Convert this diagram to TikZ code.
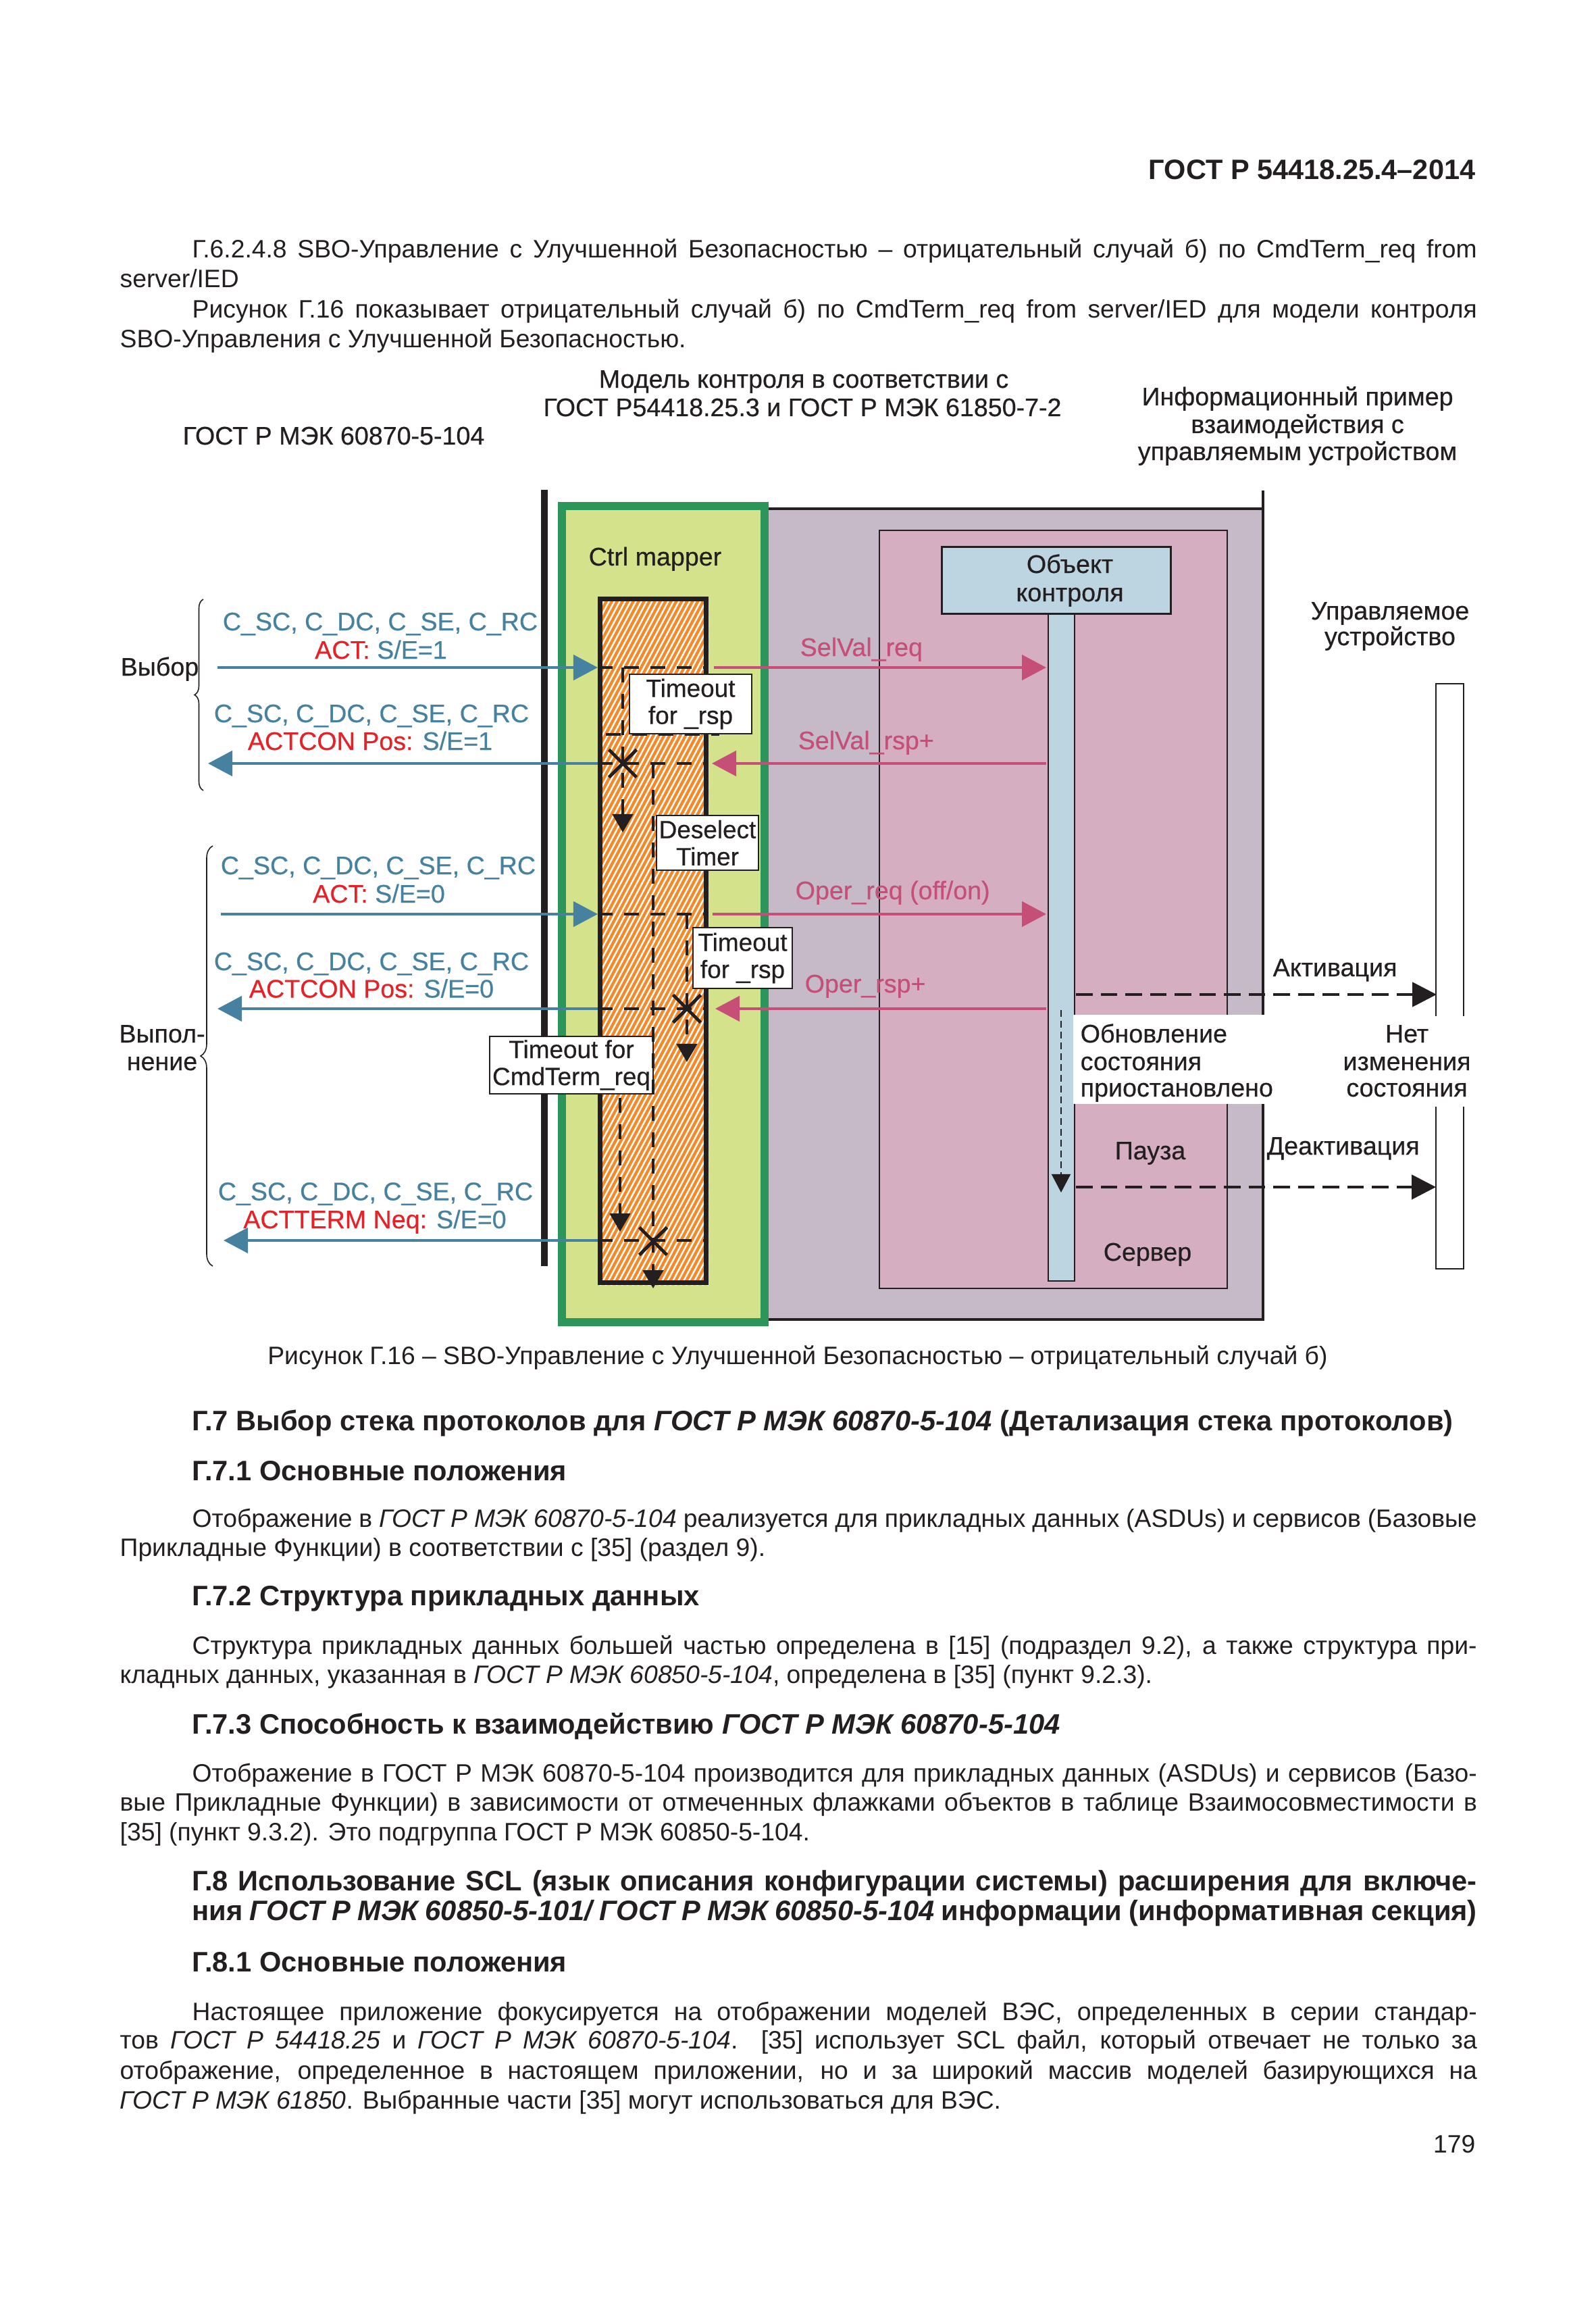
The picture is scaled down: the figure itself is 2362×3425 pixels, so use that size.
\documentclass[tikz,border=0pt]{standalone}
\usepackage{fontspec}
\setmainfont{Liberation Sans}
\newfontfamily\dfont{Liberation Sans}[FakeBold=0.5]
\usetikzlibrary{arrows.meta,patterns.meta,decorations.pathreplacing,shapes.misc}
\definecolor{cblue}{HTML}{4682A0}
\definecolor{cred}{HTML}{E52228}
\definecolor{cpink}{HTML}{C64F77}
\definecolor{cpurple}{HTML}{C6B9C8}
\definecolor{cpinkbg}{HTML}{D6AEC1}
\definecolor{clblue}{HTML}{BCD5E1}
\definecolor{clgreen}{HTML}{D4E28B}
\definecolor{cdgreen}{HTML}{2C9559}
\definecolor{corange}{HTML}{F4892A}
\definecolor{cblack}{HTML}{231F20}
\tikzset{
  body/.style={font=\fontsize{10.6}{12.6}\selectfont, anchor=base west, inner sep=0pt, text=cblack},
  bodyb/.style={font=\fontsize{11.85}{13}\selectfont\bfseries, anchor=base west, inner sep=0pt, text=cblack},
  hdr/.style={font=\fontsize{11.8}{13}\selectfont\bfseries, anchor=base east, inner sep=0pt, text=cblack},
  dl/.style={font=\dfont\fontsize{10.7}{12}\selectfont, inner sep=0pt, anchor=base},
  dlh/.style={font=\dfont\fontsize{10.7}{12}\selectfont, inner sep=0pt, anchor=base, text=cblack},
  bluearrow/.style={draw=cblue, line width=1.3pt, -{Triangle[length=0.36cm,width=0.37cm]}},
  pinkarrow/.style={draw=cpink, line width=1.3pt, -{Triangle[length=0.36cm,width=0.37cm]}},
  timerline/.style={draw=cblack, line width=1.4pt, dash pattern=on 0.22cm off 0.17cm},
  timertip/.style={-{Triangle[length=0.27cm,width=0.3cm]}},
  xmark/.style={cross out, draw=cblack, line width=1.4pt, minimum size=0.36cm, inner sep=0pt},
  timerbox/.style={draw=cblack, line width=0.45pt, fill=white, inner sep=0pt, align=center, font=\dfont\fontsize{10.5}{11.4}\selectfont, text=cblack},
  actarrow/.style={draw=cblack, line width=1.3pt, dash pattern=on 0.245cm off 0.12cm, -{Triangle[length=0.36cm,width=0.36cm]}},
  bracestyle/.style={draw=cblack, line width=0.45pt, decorate},
}
\begin{document}
\begin{tikzpicture}[x=0.01cm,y=-0.01cm]
\fill[white] (0,0) rectangle (2362,3425);
\useasboundingbox (0,0) rectangle (2362,3425);

% ---------- page header and first paragraphs
\node[hdr] (hdr) at (2185,266) {ГОСТ Р 54418.25.4–2014};
\node[body] (p1a) at (284,382) {\makebox[19.01cm][s]{Г.6.2.4.8 SBO-Управление с Улучшенной Безопасностью – отрицательный случай б) по CmdTerm\_req from}};
\node[body] (p1b) at (177,426) {server/IED};
\node[body] (p2a) at (284,471) {\makebox[19.01cm][s]{Рисунок Г.16 показывает отрицательный случай б) по CmdTerm\_req from server/IED для модели контроля}};
\node[body] (p2b) at (177,515) {SBO-Управления с Улучшенной Безопасностью.};

% ---------- diagram headings
\node[dlh] (h104) at (494,658) {ГОСТ Р МЭК 60870-5-104};
\node[dlh] (hm1) at (1190,574) {Модель контроля в соответствии с};
\node[dlh] (hm2) at (1188,616) {ГОСТ Р54418.25.3 и ГОСТ Р МЭК 61850-7-2};
\node[dlh] (hi1) at (1921,600) {Информационный пример};
\node[dlh] (hi2) at (1921,641) {взаимодействия с};
\node[dlh] (hi3) at (1921,681) {управляемым устройством};

% ---------- background regions
\fill[cpurple] (1132,753) rectangle (1870,1955);
\draw[cblack, line width=1.3pt] (1132,753) -- (1870,753);
\draw[cblack, line width=1.3pt] (1870,726) -- (1870,1955);
\draw[cblack, line width=1.3pt] (1132,1953) -- (1872,1953);
\draw[fill=cpinkbg, draw=cblack, line width=0.5pt] (1302,785) rectangle (1817,1907);
\draw[fill=clgreen, draw=cdgreen, line width=3.4pt] (832,749) rectangle (1132,1957);
\draw[cblack, line width=2.85pt] (806,725) -- (806,1874);

% orange hatched box
\fill[corange] (885,883) rectangle (1049,1902);
\fill[pattern={Lines[angle=62,distance=2pt,line width=0.7pt]}, pattern color=white] (885,883) rectangle (1049,1902);
\draw[cblack, line width=2pt] (888.5,886.5) rectangle (1045.5,1898.5);

\node[dlh, anchor=base west] (ctrl) at (871,837) {Ctrl mapper};

% object lifeline
\draw[fill=clblue, draw=cblack, line width=0.5pt] (1552,908) rectangle (1591,1896);
\node[draw=cblack, line width=0.85pt, fill=clblue, minimum width=3.38cm, minimum height=0.98cm, inner sep=0pt] (obj) at (1564,859) {};
\node[dlh] (obj1) at (1584,848) {Объект};
\node[dlh] (obj2) at (1584,890) {контроля};

% controlled device
\node[draw=cblack, line width=0.6pt, fill=white, minimum width=0.41cm, minimum height=8.66cm, inner sep=0pt] (dev) at (2146.5,1445) {};
\node[dlh] (dev1) at (2058,917) {Управляемое};
\node[dlh] (dev2) at (2058,955) {устройство};

% ---------- coordinates
\coordinate (L1) at (322,988);  \coordinate (M1) at (885,988);  \coordinate (N1) at (1049,988);  \coordinate (P1) at (1057,988);  \coordinate (O1) at (1549,988);
\coordinate (L2) at (308,1130); \coordinate (M2) at (885,1130); \coordinate (N2) at (1049,1130); \coordinate (P2) at (1054,1130); \coordinate (O2) at (1549,1130);
\coordinate (L3) at (327,1353); \coordinate (M3) at (885,1353); \coordinate (N3) at (1049,1353); \coordinate (P3) at (1055,1353); \coordinate (O3) at (1549,1353);
\coordinate (L4) at (322,1493); \coordinate (M4) at (885,1493); \coordinate (N4) at (1049,1493); \coordinate (P4) at (1059,1493); \coordinate (O4) at (1549,1493);
\coordinate (L5) at (331,1836); \coordinate (M5) at (885,1836); \coordinate (N5) at (1049,1836);

% dashed horizontals in mapper
\draw[timerline] (M1) -- (N1);
\draw[timerline] (M2) -- (N2);
\draw[timerline] (M3) -- (N3);
\draw[timerline] (M4) -- (N4);
\draw[timerline] (M5) -- (N5);

% timer boxes
\node[timerbox, minimum width=1.81cm, minimum height=0.88cm] (tb1) at (1022.5,1042) {Timeout\\for \_rsp};
\node[timerbox, minimum width=1.51cm, minimum height=0.81cm] (tb2) at (1047.5,1247.5) {Deselect\\Timer};
\node[timerbox, minimum width=1.47cm, minimum height=0.90cm] (tb3) at (1099.5,1418) {Timeout\\for \_rsp};
\node[timerbox, minimum width=2.42cm, minimum height=0.85cm] (tb4) at (846,1576.5) {Timeout for\\CmdTerm\_req};

% timer lines
\coordinate (T1a) at (922,988);  \coordinate (T1b) at (922,1232);
\coordinate (T1c) at (897,1087); \coordinate (T1d) at (1065,1087);
\coordinate (T2a) at (967,1130); \coordinate (T2b) at (967,1907);
\coordinate (T3a) at (1017,1353); \coordinate (T3b) at (1017,1572);
\coordinate (T4a) at (918,1625); \coordinate (T4b) at (918,1823);
\draw[timerline, timertip] (T1a) -- (T1b);
\draw[timerline] (T1c) -- (T1d);
\draw[timerline, timertip] (T3a) -- (T3b);
\draw[timerline, timertip] (T4a) -- (T4b);
\draw[timerline, timertip] (T2a) -- (T2b);
\node[xmark] (x1) at (922,1130) {};
\node[xmark] (x2) at (1017,1493) {};
\node[xmark] (x3) at (967,1837) {};

% messages
\draw[bluearrow] (L1) -- (M1);
\draw[bluearrow] (M2) -- (L2);
\draw[bluearrow] (L3) -- (M3);
\draw[bluearrow] (M4) -- (L4);
\draw[bluearrow] (M5) -- (L5);
\draw[pinkarrow] (P1) -- (O1);
\draw[pinkarrow] (O2) -- (P2);
\draw[pinkarrow] (P3) -- (O3);
\draw[pinkarrow] (O4) -- (P4);

% message labels (left)
\node[dl, text=cblue] (r1a) at (563,933) {C\_SC, C\_DC, C\_SE, C\_RC};
\node[dl] (r1b) at (564,975) {\textcolor{cred}{ACT:} \textcolor{cblue}{S/E=1}};
\node[dl, text=cblue] (r2a) at (550,1069) {C\_SC, C\_DC, C\_SE, C\_RC};
\node[dl] (r2b) at (548,1110) {\textcolor{cred}{ACTCON Pos:} \textcolor{cblue}{S/E=1}};
\node[dl, text=cblue] (r3a) at (560,1294) {C\_SC, C\_DC, C\_SE, C\_RC};
\node[dl] (r3b) at (561,1336) {\textcolor{cred}{ACT:} \textcolor{cblue}{S/E=0}};
\node[dl, text=cblue] (r4a) at (550,1436) {C\_SC, C\_DC, C\_SE, C\_RC};
\node[dl] (r4b) at (550,1476.5) {\textcolor{cred}{ACTCON Pos:} \textcolor{cblue}{S/E=0}};
\node[dl, text=cblue] (r5a) at (556,1776.5) {C\_SC, C\_DC, C\_SE, C\_RC};
\node[dl] (r5b) at (555,1818) {\textcolor{cred}{ACTTERM Neq:} \textcolor{cblue}{S/E=0}};

% message labels (pink)
\node[dl, text=cpink, anchor=base west] (s1) at (1184,971) {SelVal\_req};
\node[dl, text=cpink, anchor=base west] (s2) at (1181,1109) {SelVal\_rsp+};
\node[dl, text=cpink, anchor=base west] (s3) at (1177,1331) {Oper\_req (off/on)};
\node[dl, text=cpink, anchor=base west] (s4) at (1191,1469) {Oper\_rsp+};

% braces
\coordinate (B1a) at (301,1170); \coordinate (B1b) at (301,887);
\coordinate (B2a) at (315,1874); \coordinate (B2b) at (315,1252);
\draw[bracestyle, decoration={brace, amplitude=0.13cm}] (B1a) -- (B1b);
\draw[bracestyle, decoration={brace, amplitude=0.18cm}] (B2a) -- (B2b);
\node[dlh, anchor=base west] (sel) at (178,1000) {Выбор};
\node[dlh] (ex1) at (240,1543) {Выпол-};
\node[dlh] (ex2) at (240,1584) {нение};

% object activity
\coordinate (D1) at (1571,1495); \coordinate (D2) at (1571,1765);
\draw[draw=cblack, line width=0.45pt, dash pattern=on 0.1cm off 0.06cm, -{Triangle[length=0.27cm,width=0.28cm]}] (D1) -- (D2);
\coordinate (A1) at (1593,1472); \coordinate (A2) at (2127,1472);
\coordinate (A3) at (1593,1757); \coordinate (A4) at (2126,1757);
\draw[actarrow] (A1) -- (A2);
\draw[actarrow] (A3) -- (A4);
\node[dlh, anchor=base west] (act) at (1884,1445) {Активация};
\node[dlh, anchor=base west] (deact) at (1875,1709) {Деактивация};

\node[fill=white, inner sep=0pt, minimum width=2.86cm, minimum height=1.32cm] (updbg) at (1732,1568) {};
\node[dlh, anchor=base west] (upd1) at (1599,1543) {Обновление};
\node[dlh, anchor=base west] (upd2) at (1599,1584) {состояния};
\node[dlh, anchor=base west] (upd3) at (1599,1623) {приостановлено};
\node[fill=white, inner sep=0pt, minimum width=1.95cm, minimum height=1.33cm] (nobg) at (2082,1571) {};
\node[dlh] (no1) at (2083,1543) {Нет};
\node[dlh] (no2) at (2083,1584) {изменения};
\node[dlh] (no3) at (2083,1623) {состояния};

\node[dlh] (pause) at (1703,1716) {Пауза};
\node[dlh] (srv) at (1699,1866) {Сервер};

% ---------- caption and following text
\node[body, anchor=base] (cap) at (1181,2019) {Рисунок Г.16 – SBO-Управление с Улучшенной Безопасностью – отрицательный случай б)};

\node[bodyb] (g7) at (284,2117) {Г.7 Выбор стека протоколов для \textit{ГОСТ Р МЭК 60870-5-104} (Детализация стека протоколов)};
\node[bodyb] (g71) at (284,2191) {Г.7.1 Основные положения};
\node[body] (q1a) at (284,2260) {\makebox[19.01cm][s]{Отображение в \textit{ГОСТ Р МЭК 60870-5-104} реализуется для прикладных данных (ASDUs) и сервисов (Базовые}};
\node[body] (q1b) at (177,2303) {Прикладные Функции) в соответствии с [35] (раздел 9).};
\node[bodyb] (g72) at (284,2376) {Г.7.2 Структура прикладных данных};
\node[body] (q2a) at (284,2448) {\makebox[19.01cm][s]{Структура прикладных данных большей частью определена в [15] (подраздел 9.2), а также структура при-}};
\node[body] (q2b) at (177,2491) {кладных данных, указанная в \textit{ГОСТ Р МЭК 60850-5-104}, определена в [35] (пункт 9.2.3).};
\node[bodyb] (g73) at (284,2566) {Г.7.3 Способность к взаимодействию \textit{ГОСТ Р МЭК 60870-5-104}};
\node[body] (q3a) at (284,2637) {\makebox[19.01cm][s]{Отображение в ГОСТ Р МЭК 60870-5-104 производится для прикладных данных (ASDUs) и сервисов (Базо-}};
\node[body] (q3b) at (177,2680) {\makebox[20.08cm][s]{вые Прикладные Функции) в зависимости от отмеченных флажками объектов в таблице Взаимосовместимости в}};
\node[body] (q3c) at (177,2724) {[35] (пункт 9.3.2). Это подгруппа ГОСТ Р МЭК 60850-5-104.};
\node[bodyb] (g8a) at (284,2798) {\makebox[19.01cm][s]{Г.8 Использование SCL (язык описания конфигурации системы) расширения для включе-}};
\node[bodyb] (g8b) at (284,2842) {\makebox[19.01cm][s]{ния \textit{ГОСТ Р МЭК 60850-5-101/ ГОСТ Р МЭК 60850-5-104} информации (информативная секция)}};
\node[bodyb] (g81) at (284,2918) {Г.8.1 Основные положения};
\node[body] (q4a) at (284,2990) {\makebox[19.01cm][s]{Настоящее приложение фокусируется на отображении моделей ВЭС, определенных в серии стандар-}};
\node[body] (q4b) at (177,3032) {\makebox[20.08cm][s]{тов \textit{ГОСТ Р 54418.25} и \textit{ГОСТ Р МЭК 60870-5-104}. [35] использует SCL файл, который отвечает не только за}};
\node[body] (q4c) at (177,3077) {\makebox[20.08cm][s]{отображение, определенное в настоящем приложении, но и за широкий массив моделей базирующихся на}};
\node[body] (q4d) at (177,3121) {\textit{ГОСТ Р МЭК 61850}. Выбранные части [35] могут использоваться для ВЭС.};
\node[body, anchor=base east] (pg) at (2185,3186) {179};
\end{tikzpicture}
\end{document}
